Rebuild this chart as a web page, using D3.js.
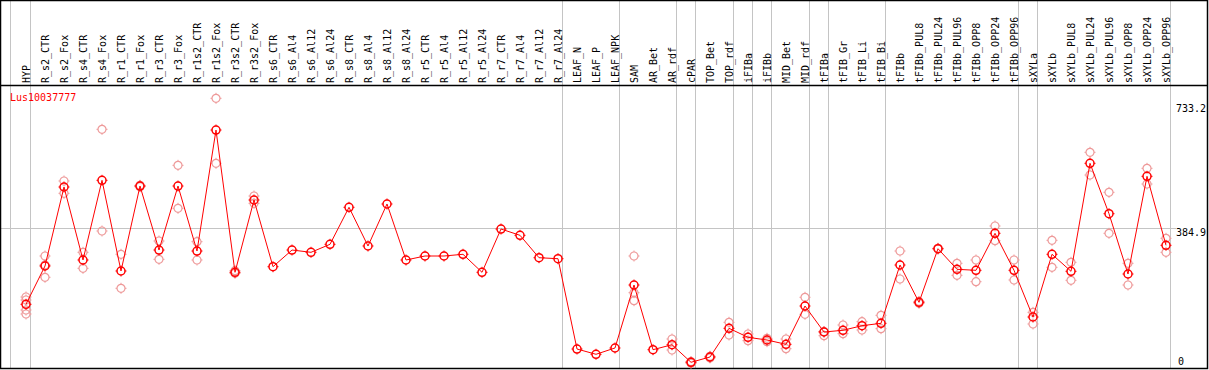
<!DOCTYPE html>
<html>
<head>
<meta charset="utf-8">
<script src="https://cdn.jsdelivr.net/npm/d3@7"></script>
<style>
  body { margin: 0; background: #fff; }
  text { font-family: "DejaVu Sans Mono", monospace; font-size: 10px; }
</style>
</head>
<body>
<div id="graph"></div>
<script>
var categories = ["HYP","R_s2_CTR","R_s2_Fox","R_s4_CTR","R_s4_Fox","R_r1_CTR","R_r1_Fox","R_r3_CTR","R_r3_Fox",
  "R_r1s2_CTR","R_r1s2_Fox","R_r3s2_CTR","R_r3s2_Fox","R_s6_CTR","R_s6_Al4","R_s6_Al12","R_s6_Al24",
  "R_s8_CTR","R_s8_Al4","R_s8_Al12","R_s8_Al24","R_r5_CTR","R_r5_Al4","R_r5_Al12","R_r5_Al24",
  "R_r7_CTR","R_r7_Al4","R_r7_Al12","R_r7_Al24","LEAF_N","LEAF_P","LEAF_NPK","SAM","AR_Bet","AR_rdf",
  "cPAR","TOP_Bet","TOP_rdf","iFIBa","iFIBb","MID_Bet","MID_rdf","tFIBa","tFIB_Gr","tFIB_Li","tFIB_Bi",
  "tFIBb","tFIBb_PUL8","tFIBb_PUL24","tFIBb_PUL96","tFIBb_OPP8","tFIBb_OPP24","tFIBb_OPP96",
  "sXYLa","sXYLb","sXYLb_PUL8","sXYLb_PUL24","sXYLb_PUL96","sXYLb_OPP8","sXYLb_OPP24","sXYLb_OPP96"];

var meanValues = [170.5,278.1,500.0,295.0,518.8,264.1,502.8,323.0,502.8,320.2,660.1,260.4,463.5,276.1,323.0,
  316.6,339.0,443.0,334.3,452.3,295.0,306.2,306.2,311.0,260.4,382.0,364.3,301.4,298.6,44.9,30.1,47.8,
  224.7,43.0,57.0,7.6,22.5,103.1,77.8,70.2,58.1,165.7,92.7,97.5,110.4,117.1,280.9,176.1,326.7,268.8,
  266.0,369.9,266.0,134.8,311.0,263.2,566.6,425.0,255.6,530.1,336.2];

var replicateValues = [
  [191.0,182.6,154.5,143.3],[306.2,246.4,281.0],[516.9,482.3],[316.6,271.6],[662.1,376.4],[311.0,215.5],
  [504.7,500.8],[348.3,296.9],[561.0,440.2],[346.4,295.0],[749.2,566.6],[264.9,257.6],[474.7,454.2],
  [],[],[],[],[],[],[],[],[],[],[],[],[],[],[],[],[],[],[],
  [306.2,203.1,180.6],[],[73.0,42.1],[9.5,5.0],[24.5,20.0],[119.9,84.3],[87.1,68.3],[75.0,65.5],
  [73.0,45.8],[190.2,142.4],[82.3,94.0],[112.4,88.0],[121.6,98.3],[139.6,102.0],[320.2,241.6],
  [173.3,178.5],[326.0,328.0],[285.7,252.0],[295.0,234.0],[390.5,349.2],[295.0,238.8],[148.0,115.2],
  [350.3,274.4],[288.5,237.9],[597.5,533.7],[485.1,369.9],[285.7,224.7],[552.5,508.4],[355.9,316.6]
];

// category index after which a separator is drawn
var groupBreaks = [0,28,31,34,35,37,38,39,41,42,45,52,53,60];
var yTicks = [733.2, 384.9, 0];
var title = "Lus10037777";

var W = 1209, H = 370;
var headerBottom = 85.5, plotBottom = 368.5, rightEdge = 1207.5;

var svg = d3.select("#graph").append("svg")
  .attr("width", W)
  .attr("height", H);

var x = d3.scalePoint()
  .domain(categories)
  .range([26, 26 + 19 * (categories.length - 1)]);

var y = d3.scaleLinear()
  .domain([0, 733.2])
  .range([365, 104]);

var step = x.step();

// vertical separators
var seps = [10.5].concat(groupBreaks.map(function(i) { return Math.floor(x(categories[i]) + step / 4) + 0.5; }));
svg.selectAll(".sep")
  .data(seps)
  .enter().append("line")
  .attr("class", "sep")
  .attr("x1", function(d) { return d; })
  .attr("x2", function(d) { return d; })
  .attr("y1", 0)
  .attr("y2", plotBottom)
  .attr("stroke", "#c4c4c4")
  .attr("stroke-width", 1);

// horizontal grid line at middle tick
svg.append("line")
  .attr("x1", 1).attr("x2", 1176)
  .attr("y1", Math.round(y(384.9)) + 0.5)
  .attr("y2", Math.round(y(384.9)) + 0.5)
  .attr("stroke", "#c4c4c4");

// header labels
svg.selectAll(".cat")
  .data(categories)
  .enter().append("text")
  .attr("class", "cat")
  .attr("transform", function(d) { return "translate(" + (x(d) + 3.5) + ",83) rotate(-90)"; })
  .attr("fill", "#000")
  .text(function(d) { return d; });

// frame
svg.append("rect")
  .attr("x", 0.5).attr("y", 0.5)
  .attr("width", rightEdge - 0.5)
  .attr("height", plotBottom - 0.5)
  .attr("fill", "none")
  .attr("stroke", "#000")
  .attr("stroke-width", 1.5);

svg.append("line")
  .attr("x1", 0).attr("x2", rightEdge)
  .attr("y1", headerBottom).attr("y2", headerBottom)
  .attr("stroke", "#000")
  .attr("stroke-width", 1.5);

// y labels on the right
svg.selectAll(".ytick")
  .data(yTicks)
  .enter().append("text")
  .attr("class", "ytick")
  .attr("x", function(d) { return d === 0 ? 1178 : 1176; })
  .attr("y", function(d) { return d === 0 ? y(d) : y(d) + 8; })
  .attr("fill", "#000")
  .text(function(d) { return d; });

// title
svg.append("text")
  .attr("x", 10)
  .attr("y", 101)
  .attr("fill", "red")
  .text(title);

function marker(g, r, color, width) {
  g.append("circle")
    .attr("r", r)
    .attr("fill", "none")
    .attr("stroke", color)
    .attr("stroke-width", width);
  g.selectAll("line.tk")
    .data([[0,-1],[0,1],[-1,0],[1,0]])
    .enter().append("line")
    .attr("class", "tk")
    .attr("x1", function(d) { return d[0] * r; })
    .attr("y1", function(d) { return d[1] * r; })
    .attr("x2", function(d) { return d[0] * (r + 1.5); })
    .attr("y2", function(d) { return d[1] * (r + 1.5); })
    .attr("stroke", color)
    .attr("stroke-width", 1);
}

// replicates
var reps = [];
replicateValues.forEach(function(list, i) {
  list.forEach(function(v) { reps.push({cat: categories[i], value: v}); });
});

svg.selectAll(".rep")
  .data(reps)
  .enter().append("g")
  .attr("class", "rep")
  .attr("transform", function(d) { return "translate(" + x(d.cat) + "," + y(d.value) + ")"; })
  .each(function() { marker(d3.select(this), 4, "#ee9a9a", 1.2); });

// mean line
var line = d3.line()
  .x(function(d, i) { return x(categories[i]); })
  .y(function(d) { return y(d); });

svg.append("path")
  .datum(meanValues)
  .attr("fill", "none")
  .attr("stroke", "red")
  .attr("stroke-width", 1)
  .attr("d", line);

svg.selectAll(".mean")
  .data(meanValues)
  .enter().append("g")
  .attr("class", "mean")
  .attr("transform", function(d, i) { return "translate(" + x(categories[i]) + "," + y(d) + ")"; })
  .each(function() { marker(d3.select(this), 4, "red", 1.5); });
</script>
</body>
</html>
